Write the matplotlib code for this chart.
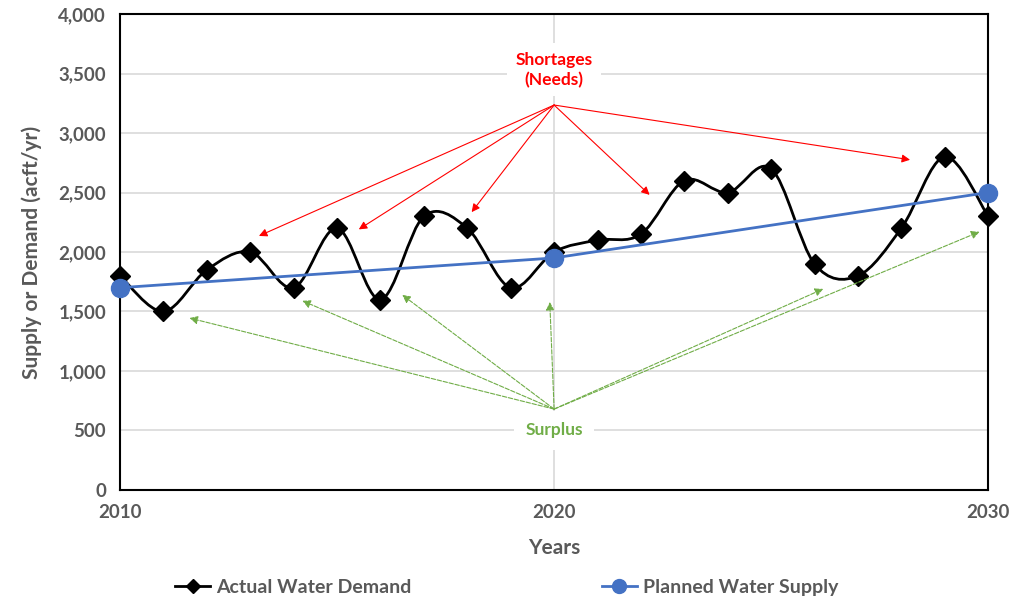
import matplotlib.pyplot as plt
import numpy as np
from matplotlib.path import Path
from matplotlib.patches import PathPatch
from matplotlib.ticker import FuncFormatter, MultipleLocator

plt.rcParams['font.family'] = ['Lato', 'DejaVu Sans']

years = list(range(2010, 2031))
demand = [1800, 1500, 1850, 2000, 1700, 2200, 1600, 2300, 2200, 1700, 2000,
          2100, 2150, 2600, 2500, 2700, 1900, 1800, 2200, 2800, 2300]
supply_years = [2010, 2020, 2030]
supply = [1700, 1950, 2500]

# callout anchors and arrow targets (year, acft/yr)
short_origin = (2020, 3235)
short_targets = [(2013.2, 2135), (2015.5, 2190), (2018.1, 2335),
                 (2022.2, 2480), (2028.2, 2775)]
surplus_origin = (2020, 680)
surplus_targets = [(2011.6, 1445), (2014.2, 1590), (2016.5, 1640),
                   (2019.9, 1580), (2026.2, 1690), (2029.8, 2170)]

grey = '#595959'
red = '#FF0000'
green = '#70AD47'
blue = '#4472C4'


def smooth_path(xs, ys, t=1 / 6):
    # cubic bezier segments through every point, like a spreadsheet "smoothed line"
    pts = np.column_stack([xs, ys]).astype(float)
    verts = [pts[0]]
    codes = [Path.MOVETO]
    n = len(pts)
    for i in range(n - 1):
        p0 = pts[i - 1] if i > 0 else pts[i]
        p1, p2 = pts[i], pts[i + 1]
        p3 = pts[i + 2] if i + 2 < n else pts[i + 1]
        verts += [p1 + (p2 - p0) * t, p2 - (p3 - p1) * t, p2]
        codes += [Path.CURVE4] * 3
    return Path(verts, codes)


fig = plt.figure(figsize=(10.13, 6.01), dpi=100)
ax = fig.add_axes([0.1185, 0.1847, 0.857, 0.792])

ax.add_patch(PathPatch(smooth_path(years, demand), fill=False,
                       edgecolor='black', lw=2, zorder=3, clip_on=False))
ax.plot(years, demand, ls='none', marker='D', color='black', ms=10, zorder=4,
        clip_on=False)
ax.plot(supply_years, supply, color=blue, lw=2, marker='o', ms=13, zorder=5,
        clip_on=False)

ax.set_xlim(2010, 2030)
ax.set_ylim(0, 4000)
ax.xaxis.set_major_locator(MultipleLocator(10))
ax.yaxis.set_major_locator(MultipleLocator(500))
ax.yaxis.set_major_formatter(FuncFormatter(lambda v, p: f'{int(v):,}'))
ax.grid(True, color='#D9D9D9', lw=1.2, zorder=0)
ax.set_axisbelow(True)
ax.tick_params(length=0, labelsize=13.5, labelcolor=grey, pad=10)
for lab in ax.get_xticklabels() + ax.get_yticklabels():
    lab.set_fontweight('bold')
for s in ax.spines.values():
    s.set_color('black')
    s.set_linewidth(1.5)

ax.set_xlabel('Years', fontsize=15, fontweight='bold', color=grey, labelpad=12)
ax.set_ylabel('Supply or Demand (acft/yr)', fontsize=15, fontweight='bold',
              color=grey, labelpad=12)

for tx, ty in short_targets:
    ax.annotate('', xy=(tx, ty), xytext=short_origin,
                arrowprops=dict(arrowstyle='-|>', color=red, lw=0.8,
                                mutation_scale=12, shrinkA=0, shrinkB=0),
                zorder=6)
for tx, ty in surplus_targets:
    ax.annotate('', xy=(tx, ty), xytext=surplus_origin,
                arrowprops=dict(arrowstyle='-|>', color=green, lw=0.8,
                                ls=(0, (4, 1.5)), mutation_scale=12,
                                shrinkA=0, shrinkB=0),
                zorder=6)

ax.text(2020, 3530, 'Shortages\n(Needs)', color=red, fontsize=12.5,
        fontweight='bold', ha='center', va='center', linespacing=1.3,
        bbox=dict(facecolor='white', edgecolor='none', pad=6), zorder=7)
ax.text(2020, 500, 'Surplus', color=green, fontsize=12.5, fontweight='bold',
        ha='center', va='center',
        bbox=dict(facecolor='white', edgecolor='none', pad=8), zorder=7)

h1 = plt.Line2D([], [], color='black', lw=2, marker='D', ms=7)
h2 = plt.Line2D([], [], color=blue, lw=2, marker='o', ms=10)
leg = fig.legend([h1, h2], ['Actual Water Demand', 'Planned Water Supply'],
                 loc='center', bbox_to_anchor=(0.5, 0.022), ncol=2,
                 frameon=False, fontsize=14, columnspacing=9.8,
                 handlelength=1.8, handletextpad=0.3)
for t in leg.get_texts():
    t.set_color(grey)
    t.set_fontweight('bold')

fig.savefig('out.png', dpi=100)
